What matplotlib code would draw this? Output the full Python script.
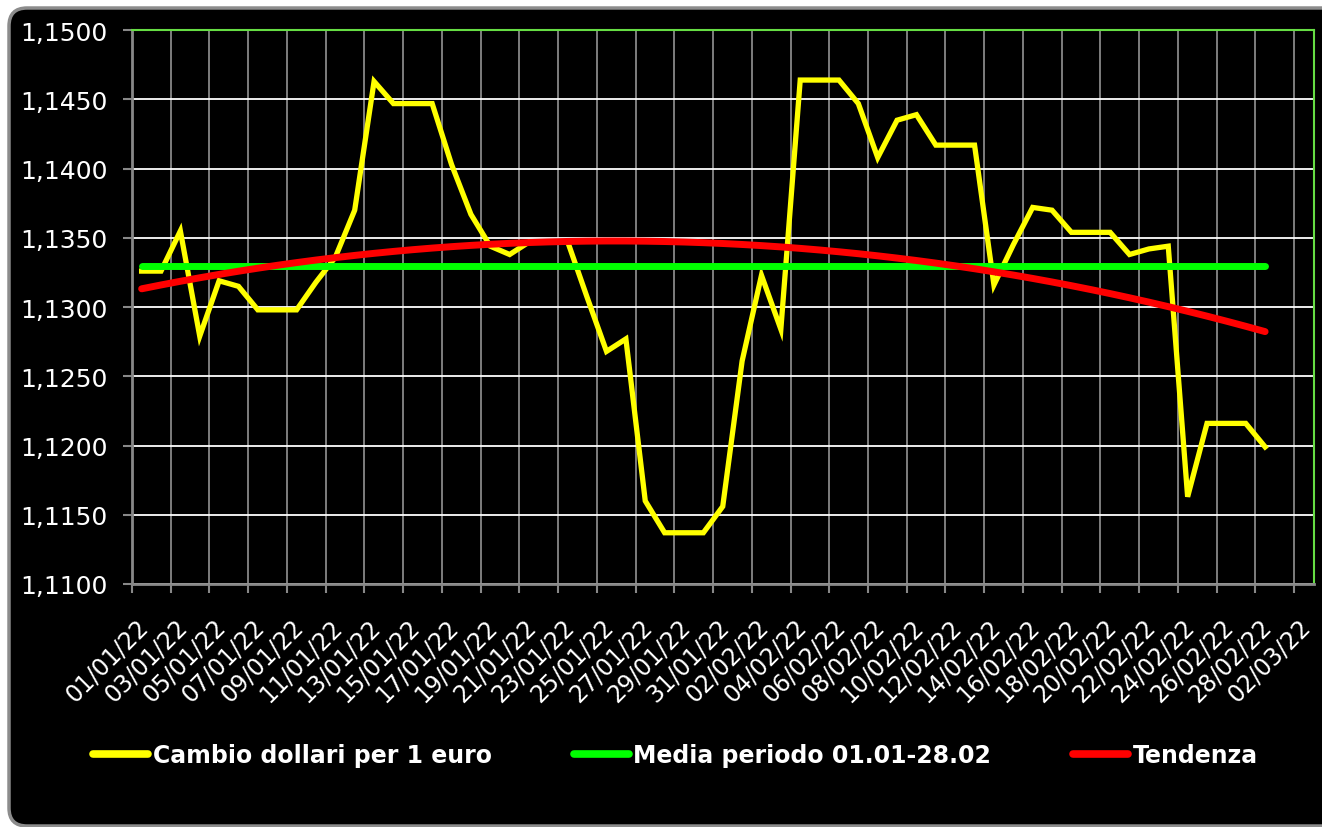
import matplotlib
matplotlib.use("Agg")
import matplotlib.pyplot as plt
import matplotlib.dates as mdates
import matplotlib.transforms as mtransforms
from matplotlib.patches import FancyBboxPatch
from matplotlib.ticker import FuncFormatter, MultipleLocator
import numpy as np
import pandas as pd

# daily USD per EUR rate, 01/01/22 .. 28/02/22 (weekends carry the last fixing)
rates = [
    1.1326, 1.1326, 1.1355, 1.1279, 1.1319, 1.1315, 1.1298, 1.1298, 1.1298, 1.1318,
    1.1336, 1.1370, 1.1463, 1.1447, 1.1447, 1.1447, 1.1403, 1.1367, 1.1344, 1.1338,
    1.1347, 1.1347, 1.1347, 1.1307, 1.1268, 1.1277, 1.1160, 1.1137, 1.1137, 1.1137,
    1.1156, 1.1261, 1.1323, 1.1284, 1.1464, 1.1464, 1.1464, 1.1447, 1.1408, 1.1435,
    1.1439, 1.1417, 1.1417, 1.1417, 1.1316, 1.1345, 1.1372, 1.1370, 1.1354, 1.1354,
    1.1354, 1.1338, 1.1342, 1.1344, 1.1163, 1.1216, 1.1216, 1.1216, 1.1199,
]
first_day = "2022-01-01"
last_day = "2022-02-28"
last_tick = "2022-03-02"
axis_end = "2022-03-03"

series_labels = ["Cambio dollari per 1 euro", "Media periodo 01.01-28.02", "Tendenza"]

days = pd.date_range(first_day, last_day, freq="D") + pd.Timedelta(hours=12)
rates = np.array(rates)
mean_rate = rates.mean()
idx = np.arange(len(rates))
trend = np.polyval(np.polyfit(idx, rates, 2), idx)

fig = plt.figure(figsize=(13.22, 8.28), dpi=100)
fig.patch.set_facecolor("white")

# black rounded panel behind everything
panel = FancyBboxPatch((0.09, 0.01), 13.5, 8.18,
                       boxstyle="round,pad=0,rounding_size=0.18",
                       transform=fig.dpi_scale_trans, facecolor="black",
                       edgecolor="#8c8c8c", linewidth=2.5, zorder=-5)
fig.patches.append(panel)

ax = fig.add_axes([0.0998, 0.2935, 0.8938, 0.6688])
ax.set_facecolor("black")

l1, = ax.plot(days, rates, color="#ffff00", lw=3.8, zorder=3,
              solid_joinstyle="miter", label=series_labels[0])
l2, = ax.plot([days[0], days[-1]], [mean_rate, mean_rate], color="#00ff00", lw=5,
              solid_capstyle="round", zorder=4, label=series_labels[1])
l3, = ax.plot(days, trend, color="#ff0000", lw=5, solid_capstyle="round",
              zorder=5, label=series_labels[2])

ax.set_xlim(pd.Timestamp(first_day), pd.Timestamp(axis_end))
ax.set_ylim(1.11, 1.15)
ax.yaxis.set_major_locator(MultipleLocator(0.005))
ax.yaxis.set_major_formatter(FuncFormatter(lambda v, p: f"{v:.4f}".replace(".", ",")))
ax.set_xticks(pd.date_range(first_day, last_tick, freq="2D"))
ax.xaxis.set_major_formatter(mdates.DateFormatter("%d/%m/%y"))

ax.grid(axis="y", color="white", lw=1.3, zorder=1)
ax.grid(axis="x", color="#a0a0a0", lw=1.1, zorder=1)

for side in ["top", "right"]:
    ax.spines[side].set_color("#66dd44")
    ax.spines[side].set_linewidth(1.5)
for side in ["left", "bottom"]:
    ax.spines[side].set_color("#888888")
    ax.spines[side].set_linewidth(2)

ax.tick_params(axis="both", colors="#888888", length=6.5, width=1.5, labelcolor="white")
ax.tick_params(axis="y", labelsize=18, pad=11)
ax.tick_params(axis="x", labelsize=17, pad=15)

shift = mtransforms.ScaledTranslation(4 / 100, 0, fig.dpi_scale_trans)
for lab in ax.get_xticklabels():
    lab.set_rotation(45)
    lab.set_ha("right")
    lab.set_va("top")
    lab.set_rotation_mode("anchor")
    lab.set_transform(lab.get_transform() + shift)

leg = fig.legend(handles=[l1, l2, l3], loc="center", bbox_to_anchor=(0.511, 0.087),
                 ncol=3, frameon=False, handlelength=2.33, handletextpad=0.2,
                 columnspacing=3.45, prop={"size": 17, "weight": "bold"})
for t in leg.get_texts():
    t.set_color("white")
for h in leg.legend_handles:
    h.set_linewidth(5.5)
    h.set_solid_capstyle("round")

fig.savefig("out.png", dpi=100, facecolor=fig.get_facecolor())
